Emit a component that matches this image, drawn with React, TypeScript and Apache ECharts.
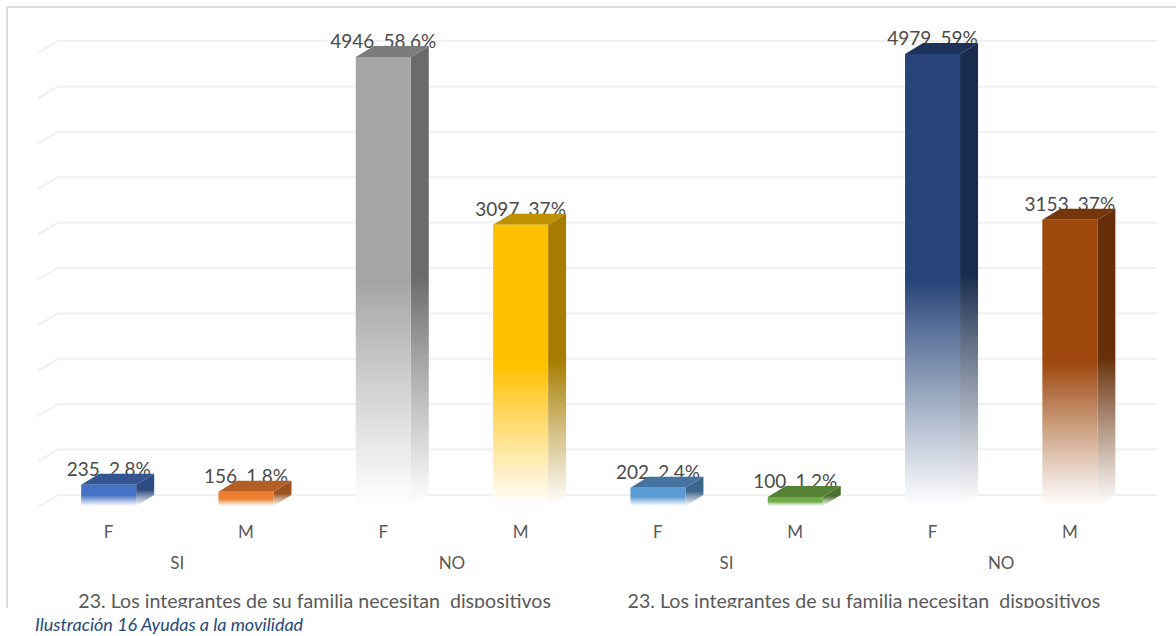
import React, { useEffect, useRef } from "react";
import * as echarts from "echarts";

const subCategories = ["F", "M", "F", "M", "F", "M", "F", "M"];
const groupCategories = ["SI", "NO", "SI", "NO"];
const titleCategories = [
  "23. Los integrantes de su familia necesitan  dispositivos",
  "23. Los integrantes de su familia necesitan  dispositivos",
];
const counts = [235, 156, 4946, 3097, 202, 100, 4979, 3153];
const shares = ["2.8%", "1.8%", "58.6%", "37%", "2.4%", "1.2%", "59%", "37%"];
const frontColors = ["#4472C4", "#ED7D31", "#A5A5A5", "#FFC000", "#5B9BD5", "#70AD47", "#264478", "#9E480E"];
const topColors = ["#335693", "#B25E25", "#7C7C7C", "#BF9000", "#44749F", "#548235", "#1D335A", "#76360B"];
const sideColors = ["#2C4B80", "#9A5220", "#6B6B6B", "#A67D00", "#3B658B", "#49702E", "#192C4E", "#672F09"];
const ticks = [0, 500, 1000, 1500, 2000, 2500, 3000, 3500, 4000, 4500, 5000];
const caption = "Ilustración 16 Ayudas a la movilidad";

const FONT = "Lato";
const DX = 18;
const DY = 11;

const fade = (color: string) =>
  new echarts.graphic.LinearGradient(0, 0, 0, 1, [
    { offset: 0, color },
    { offset: 0.5, color },
    { offset: 1, color: "rgba(255,255,255,0.9)" },
  ]);

export default function App() {
  const ref = useRef<HTMLDivElement>(null);
  useEffect(() => {
    const chart = echarts.init(ref.current!, null, { renderer: "svg" });
    const L = 40;
    const R = 1138.5;
    const T = 52;
    const B = 506;
    chart.setOption({
      animation: false,
      backgroundColor: "#fff",
      grid: { left: L, top: T, width: R - L, height: B - T, containLabel: false },
      xAxis: [
        {
          type: "category",
          data: subCategories,
          position: "bottom",
          axisLine: { show: false },
          axisTick: { show: false },
          axisLabel: { color: "#595959", fontFamily: FONT, fontSize: 17, margin: 17 },
        },
        {
          type: "category",
          data: groupCategories,
          position: "bottom",
          offset: 30,
          axisLine: { show: false },
          axisTick: { show: false },
          axisLabel: { color: "#595959", fontFamily: FONT, fontSize: 17, margin: 18 },
        },
        {
          type: "category",
          data: titleCategories,
          position: "bottom",
          offset: 69,
          axisLine: { show: false },
          axisTick: { show: false },
          axisLabel: { color: "#595959", fontFamily: FONT, fontSize: 19.6, margin: 15, interval: 0 },
        },
      ],
      yAxis: {
        type: "value",
        min: 0,
        max: 5000,
        interval: 500,
        axisLine: { show: false },
        axisTick: { show: false },
        axisLabel: { show: false },
        splitLine: { show: false },
      },
      series: [
        {
          type: "custom",
          silent: true,
          z: 1,
          clip: false,
          data: ticks,
          encode: { y: 0 },
          renderItem: (_p: any, api: any) => {
            const y = api.coord([0, api.value(0)])[1];
            return {
              type: "polyline",
              shape: { points: [[L - 2, y + 1], [L + DX, y - DY], [R + DX + 1, y - DY]] },
              style: { stroke: "#F0F0F0", lineWidth: 2, fill: "none" },
            };
          },
        },
        {
          type: "custom",
          silent: true,
          z: 3,
          clip: false,
          data: counts.map((v, i) => [i, v]),
          encode: { x: 0, y: 1 },
          renderItem: (_p: any, api: any) => {
            const i = api.value(0);
            const [cx, y] = api.coord([i, api.value(1)]);
            const base = api.coord([i, 0])[1];
            const w = 55;
            const x0 = cx - w / 2;
            const x1 = cx + w / 2;
            return {
              type: "group",
              children: [
                {
                  type: "text",
                  style: {
                    x: cx,
                    y: y - 16,
                    text: `${counts[i]}, ${shares[i]}`,
                    fill: "#4A4A4A",
                    font: `19px ${FONT}`,
                    align: "center",
                    verticalAlign: "middle",
                  },
                },
                {
                  type: "polygon",
                  shape: { points: [[x1, y], [x1 + DX, y - DY], [x1 + DX, base - DY], [x1, base]] },
                  style: { fill: fade(sideColors[i]) },
                },
                {
                  type: "polygon",
                  shape: { points: [[x0, y], [x0 + DX, y - DY], [x1 + DX, y - DY], [x1, y]] },
                  style: { fill: topColors[i] },
                },
                {
                  type: "rect",
                  shape: { x: x0, y, width: w, height: base - y },
                  style: { fill: fade(frontColors[i]) },
                },
              ],
            };
          },
        },
      ],
      graphic: [
        {
          type: "rect",
          z: 50,
          shape: { x: 7, y: 7, width: 1180, height: 620 },
          style: { fill: "none", stroke: "#DDDDDD", lineWidth: 2 },
        },
        {
          type: "rect",
          z: 60,
          shape: { x: 0, y: 608, width: 1176, height: 28 },
          style: { fill: "#fff" },
        },
        {
          type: "text",
          z: 70,
          x: 35,
          y: 615,
          style: { text: caption, fill: "#1F497D", font: `italic 18px ${FONT}` },
        },
      ],
    });
    return () => chart.dispose();
  }, []);
  return <div ref={ref} style={{ position: "fixed", left: 0, top: 0, width: 1176, height: 636 }} />;
}
